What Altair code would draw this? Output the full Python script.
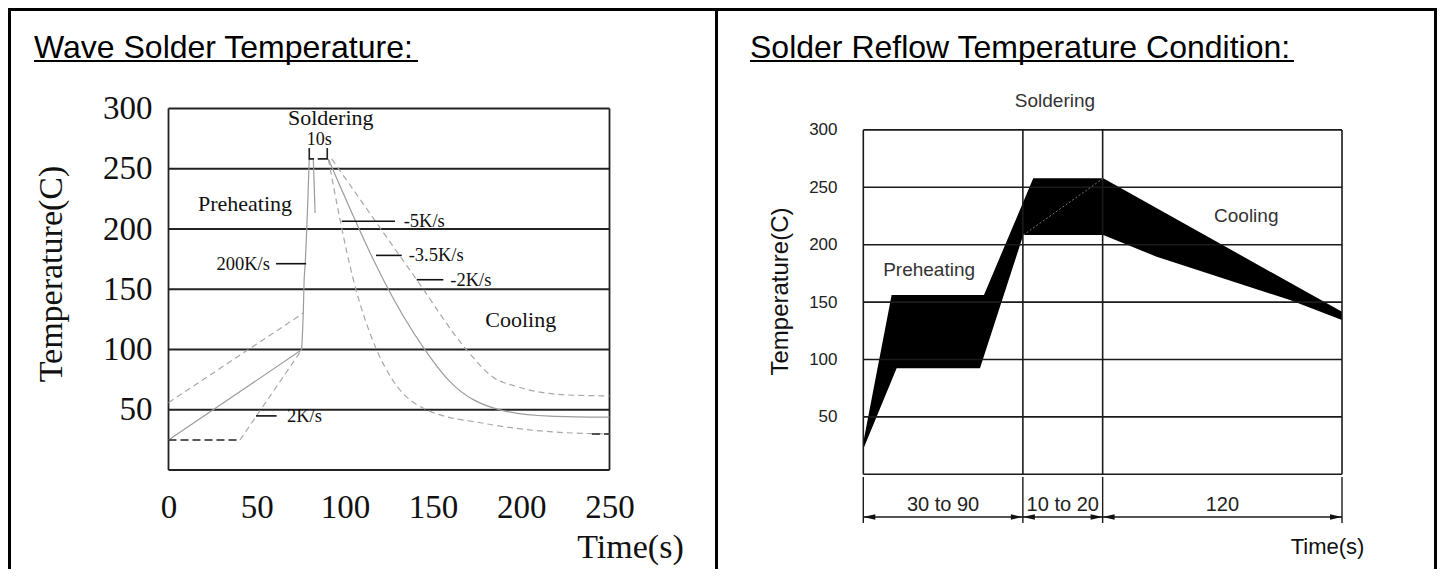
import altair as alt
import pandas as pd

SERIF = "Liberation Serif"
SANS = "Liberation Sans"
INK = "#111111"

H = 561
W_LEFT = 710
W_RIGHT = 719

# ---------------- Wave solder (left panel) ----------------
wave_x_ticks = [0, 50, 100, 150, 200, 250]
wave_y_ticks = [50, 100, 150, 200, 250, 300]
wave_hlines = [0, 50, 100, 150, 200, 250, 300]
wave_vlines = [0, 250]

pre_upper_t = [0, 76.4]
pre_upper_v = [55.9, 130.2]
pre_solid_t = [0, 75.5]
pre_solid_v = [24.9, 99.7]
pre_rise_t = [40.5, 75.5]
pre_rise_v = [24.9, 99.7]
pre_base_t = [0, 40.5]
pre_base_v = [24.9, 24.9]
riser_t = [75.5, 76.4, 76.9, 77.4, 79.8]
riser_v = [99.7, 130.2, 158.0, 169.0, 258.2]
dip_t = [82.1, 83.1]
dip_v = [257.6, 213.3]
cool_fast_t = [90.6, 104.8, 118.0, 127.0, 146.4, 178.5, 216.0, 250.0]
cool_fast_v = [258.2, 157.9, 99.7, 74.8, 49.9, 38.8, 31.8, 29.9]
cool_mid_t = [90.6, 118.0, 121.8, 145.4, 158.6, 188.0, 216.0, 250.0]
cool_mid_v = [258.2, 169.0, 157.9, 99.7, 74.8, 49.9, 44.7, 43.8]
cool_slow_t = [92.5, 140.7, 169.0, 184.0, 197.4, 225.7, 250.0]
cool_slow_v = [258.2, 157.9, 99.7, 77.0, 69.3, 62.3, 61.5]
end_dash_t = [240, 250]
end_dash_v = [29.9, 29.9]
bracket_left_t = [79.8, 79.8, 82.5]
bracket_left_v = [267.3, 258.2, 258.2]
bracket_right_t = [84.6, 90.0, 90.0]
bracket_right_v = [258.2, 258.2, 267.3]

leader_names = ["200K/s", "-5K/s", "-3.5K/s", "-2K/s", "2K/s"]
leader_t1 = [61.0, 98.2, 117.6, 140.7, 49.6]
leader_t2 = [78.0, 128.4, 132.2, 155.8, 61.3]
leader_v = [171.2, 206.4, 178.1, 157.9, 44.9]
leader_text_t = [57.5, 132.2, 135.0, 158.6, 66.0]
leader_align = ["right", "left", "left", "left", "left"]

wave_words = ["Soldering", "Preheating", "Cooling"]
wave_words_t = [92.0, 43.4, 199.7]
wave_words_v = [286.7, 215.2, 118.3]
tens_label = ["10s"]
tens_t = [85.4]
tens_v = [270.1]

# ---------------- Reflow (right panel) ----------------
reflow_y_ticks = [50, 100, 150, 200, 250, 300]
reflow_hlines = [0, 50, 100, 150, 200, 250, 300]
reflow_vlines = [0, 80, 120, 240]
band_upper_t = [0, 14.2, 60.5, 85.2, 120.3, 240]
band_upper_v = [28.0, 156.2, 156.2, 257.8, 257.8, 141.6]
band_lower_t = [0, 16.7, 58.5, 80.2, 120.3, 147.1, 213.9, 240]
band_lower_v = [22.0, 92.3, 92.3, 208.4, 208.4, 189.5, 151.8, 134.4]
diag_t = [80.2, 120.3]
diag_v = [208.4, 257.8]
dim_start = [0, 80, 120]
dim_end = [80, 120, 240]
dim_mid = [40, 100, 180]
dim_labels = ["30 to 90", "10 to 20", "120"]
reflow_words = ["Soldering", "Preheating", "Cooling"]
reflow_words_t = [96.1, 33.0, 192.0]
reflow_words_v = [320.0, 172.7, 220.0]


def series(name, ts, vs):
    return pd.DataFrame({"t": ts, "v": vs, "s": name, "o": list(range(len(ts)))})


one = pd.DataFrame({"a": [0]})


def frame_rect(x1, x2, y1, y2):
    return alt.Chart(one).mark_rect(color="#000", opacity=1).encode(
        x=alt.value(x1), x2=alt.value(x2), y=alt.value(y1), y2=alt.value(y2))


# ---------- left scales / axes ----------
L_XS = alt.Scale(domain=[0, 250], range=[160.5, 601.5], nice=False, zero=False)
L_YS = alt.Scale(domain=[0, 300], range=[462, 100.5], nice=False, zero=False)
L_XAX = alt.Axis(values=wave_x_ticks, orient="bottom", offset=-52, domain=False, ticks=False,
                 tickSize=0, grid=False, labelPadding=0, labelBaseline="alphabetic",
                 labelAlign="center", labelFlush=False, labelOverlap=False, labelFont=SERIF,
                 labelFontSize=33, labelColor=INK, title="Time(s)", titleFont=SERIF,
                 titleFontSize=34, titleFontWeight="normal", titleColor=INK, titleX=622,
                 titleY=40, titleAlign="center", titleBaseline="alphabetic")
L_YAX = alt.Axis(values=wave_y_ticks, orient="left", offset=-144, domain=False, ticks=False,
                 tickSize=0, grid=False, labelPadding=0, labelBaseline="middle",
                 labelAlign="right", labelFlush=False, labelOverlap=False, labelFont=SERIF,
                 labelFontSize=33, labelColor=INK, title="Temperature(C)", titleFont=SERIF,
                 titleFontSize=34, titleFontWeight="normal", titleColor=INK, titleAngle=270,
                 titleX=-90.5, titleY=265.5, titleAlign="center", titleBaseline="alphabetic")


def LX(f="t"):
    return alt.X(f"{f}:Q", scale=L_XS, axis=L_XAX)


def LY(f="v"):
    return alt.Y(f"{f}:Q", scale=L_YS, axis=L_YAX)


hl = pd.DataFrame({"v": wave_hlines, "t": 0, "t2": 250})
vl = pd.DataFrame({"t": wave_vlines, "v": 0, "v2": 300})
l_grid = alt.Chart(hl).mark_rule(color="#222", strokeWidth=1.8).encode(x=LX(), x2="t2:Q", y=LY())
l_box = alt.Chart(vl).mark_rule(color="#222", strokeWidth=1.8).encode(x=LX(), y=LY(), y2="v2:Q")

gray_dashed = pd.concat([
    series("pu", pre_upper_t, pre_upper_v),
    series("pr", pre_rise_t, pre_rise_v),
    series("cf", cool_fast_t, cool_fast_v),
    series("cs", cool_slow_t, cool_slow_v),
])
gray_solid = pd.concat([
    series("ps", pre_solid_t, pre_solid_v),
    series("ri", riser_t, riser_v),
    series("di", dip_t, dip_v),
    series("cm", cool_mid_t, cool_mid_v),
])
black_solid = pd.concat([
    series("bl", bracket_left_t, bracket_left_v),
    series("br", bracket_right_t, bracket_right_v),
])
black_dashed = pd.concat([
    series("pb", pre_base_t, pre_base_v),
    series("ed", end_dash_t, end_dash_v),
])

l_gd = alt.Chart(gray_dashed).mark_line(color="#a8a8a8", strokeWidth=1.2, strokeDash=[6, 4],
                                        interpolate="monotone").encode(
    x=LX(), y=LY(), detail="s:N", order="o:Q")
l_gs = alt.Chart(gray_solid).mark_line(color="#9c9c9c", strokeWidth=1.2,
                                       interpolate="monotone").encode(
    x=LX(), y=LY(), detail="s:N", order="o:Q")
l_bs = alt.Chart(black_solid).mark_line(color="#222", strokeWidth=1.6).encode(
    x=LX(), y=LY(), detail="s:N", order="o:Q")
l_bd = alt.Chart(black_dashed).mark_line(color="#222", strokeWidth=1.6, strokeDash=[8, 4]).encode(
    x=LX(), y=LY(), detail="s:N", order="o:Q")

lead = pd.DataFrame({"name": leader_names, "t": leader_t1, "t2": leader_t2, "v": leader_v,
                     "tt": leader_text_t, "al": leader_align})
l_lead = alt.Chart(lead).mark_rule(color="#111", strokeWidth=1.6).encode(x=LX(), x2="t2:Q", y=LY())
l_lead_txt_l = alt.Chart(lead[lead.al == "left"]).mark_text(
    font=SERIF, fontSize=18.5, align="left", baseline="middle", color=INK, dx=2).encode(
    x=LX("tt"), y=LY(), text="name:N")
l_lead_txt_r = alt.Chart(lead[lead.al == "right"]).mark_text(
    font=SERIF, fontSize=18.5, align="right", baseline="middle", color=INK).encode(
    x=LX("tt"), y=LY(), text="name:N")

words = pd.DataFrame({"w": wave_words, "t": wave_words_t, "v": wave_words_v})
l_words = alt.Chart(words).mark_text(font=SERIF, fontSize=22, align="center",
                                     baseline="alphabetic", color=INK).encode(
    x=LX(), y=LY(), text="w:N")
tens = pd.DataFrame({"w": tens_label, "t": tens_t, "v": tens_v})
l_tens = alt.Chart(tens).mark_text(font=SERIF, fontSize=18, align="center",
                                   baseline="alphabetic", color=INK).encode(
    x=LX(), y=LY(), text="w:N")

l_title = alt.Chart(pd.DataFrame({"w": ["Wave Solder Temperature:"]})).mark_text(
    font=SANS, fontSize=32, align="left", baseline="alphabetic", color="#000").encode(
    x=alt.value(26), y=alt.value(49.5), text="w:N")
l_under = frame_rect(26, 410, 52, 54)

left = alt.layer(
    l_grid, l_box, l_gd, l_gs, l_bs, l_bd, l_lead, l_lead_txt_l, l_lead_txt_r, l_words, l_tens,
    l_title, l_under,
    frame_rect(0, W_LEFT, 0, 3), frame_rect(0, 3, 0, H), frame_rect(W_LEFT - 3, W_LEFT, 0, H)
).properties(width=W_LEFT, height=H)

# ---------- right scales / axes ----------
R_XS = alt.Scale(domain=[0, 240], range=[145.3, 624], nice=False, zero=False)
R_YS = alt.Scale(domain=[0, 300], range=[466.3, 121.9], nice=False, zero=False)
R_XAX = alt.Axis(orient="bottom", offset=0, domain=False, ticks=False, tickSize=0, grid=False,
                 labels=False, title="Time(s)", titleFont=SANS, titleFontSize=22,
                 titleFontWeight="normal", titleColor=INK, titleX=609, titleY=-16,
                 titleAlign="center", titleBaseline="alphabetic")
R_YAX = alt.Axis(values=reflow_y_ticks, orient="left", offset=-119, domain=False, ticks=False,
                 tickSize=0, grid=False, labelPadding=0, labelBaseline="middle",
                 labelAlign="right", labelFlush=False, labelOverlap=False, labelFont=SANS,
                 labelFontSize=17, labelColor="#222", title="Temperature(C)", titleFont=SANS,
                 titleFontSize=24, titleFontWeight="normal", titleColor=INK, titleAngle=270,
                 titleX=-50, titleY=283, titleAlign="center", titleBaseline="alphabetic")


def RX(f="t"):
    return alt.X(f"{f}:Q", scale=R_XS, axis=R_XAX)


def RY(f="v"):
    return alt.Y(f"{f}:Q", scale=R_YS, axis=R_YAX)


upper = pd.DataFrame({"t": band_upper_t, "v": band_upper_v, "z": 0})
lower = pd.DataFrame({"t": band_lower_t, "v": band_lower_v, "z": 0})
r_black = alt.Chart(upper).mark_area(color="#000", opacity=1).encode(x=RX(), y=RY(), y2="z:Q")
r_white = alt.Chart(lower).mark_area(color="#fff", opacity=1).encode(x=RX(), y=RY(), y2="z:Q")

rhl = pd.DataFrame({"v": reflow_hlines, "t": 0, "t2": 240})
rvl = pd.DataFrame({"t": reflow_vlines, "v": 0, "v2": 300})
r_grid = alt.Chart(rhl).mark_rule(color="#1a1a1a", strokeWidth=1.6).encode(x=RX(), x2="t2:Q", y=RY())
r_vgrid = alt.Chart(rvl).mark_rule(color="#1a1a1a", strokeWidth=1.6).encode(x=RX(), y=RY(), y2="v2:Q")
r_diag = alt.Chart(pd.DataFrame({"t": diag_t, "v": diag_v})).mark_line(
    color="#777", strokeWidth=1, strokeDash=[2, 2]).encode(x=RX(), y=RY())

ext = pd.DataFrame({"t": reflow_vlines})
r_ext = alt.Chart(ext).mark_rule(color="#1a1a1a", strokeWidth=1.4).encode(
    x=RX(), y=alt.value(469), y2=alt.value(515))
dims = pd.DataFrame({"t": dim_start, "t2": dim_end, "m": dim_mid, "lab": dim_labels})
r_dim = alt.Chart(dims).mark_rule(color="#1a1a1a", strokeWidth=1.6).encode(
    x=RX(), x2="t2:Q", y=alt.value(509))
r_arrow_l = alt.Chart(dims).mark_point(shape="M -1 0 L 1 -0.45 L 1 0.45 Z", filled=True,
                                       size=144, color="#111", opacity=1, xOffset=6).encode(
    x=RX(), y=alt.value(509))
r_arrow_r = alt.Chart(dims).mark_point(shape="M 1 0 L -1 -0.45 L -1 0.45 Z", filled=True,
                                       size=144, color="#111", opacity=1, xOffset=-6).encode(
    x=RX("t2"), y=alt.value(509))
r_dim_txt = alt.Chart(dims).mark_text(font=SANS, fontSize=20, align="center",
                                      baseline="alphabetic", color="#222").encode(
    x=RX("m"), y=alt.value(503), text="lab:N")

rwords = pd.DataFrame({"w": reflow_words, "t": reflow_words_t, "v": reflow_words_v})
r_words = alt.Chart(rwords).mark_text(font=SANS, fontSize=19, align="center",
                                      baseline="alphabetic", color="#333").encode(
    x=RX(), y=RY(), text="w:N")

r_title = alt.Chart(pd.DataFrame({"w": ["Solder Reflow Temperature Condition:"]})).mark_text(
    font=SANS, fontSize=32, align="left", baseline="alphabetic", color="#000").encode(
    x=alt.value(32), y=alt.value(49.5), text="w:N")
r_under = frame_rect(32, 576, 52, 54)

right = alt.layer(
    r_black, r_white, r_grid, r_vgrid, r_diag, r_ext, r_dim, r_arrow_l, r_arrow_r, r_dim_txt,
    r_words, r_title, r_under,
    frame_rect(0, W_RIGHT, 0, 3), frame_rect(W_RIGHT - 3, W_RIGHT, 0, H)
).properties(width=W_RIGHT, height=H)

chart = alt.hconcat(left, right, spacing=0, bounds="flush").properties(
    padding=0, background="#ffffff"
).configure_view(strokeOpacity=0)

chart.save("out.html", embed_options={"renderer": "svg", "actions": False})
